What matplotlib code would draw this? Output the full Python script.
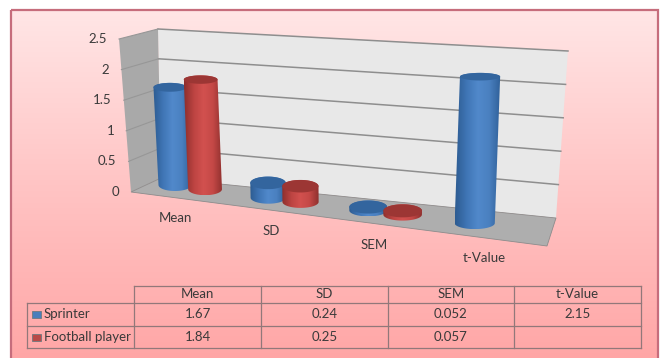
import numpy as np
import matplotlib
matplotlib.use('Agg')
import matplotlib.pyplot as plt
from matplotlib.colors import LinearSegmentedColormap
from matplotlib.patches import Polygon, Rectangle

categories = ['Mean', 'SD', 'SEM', 't-Value']
sprinter = [1.67, 0.24, 0.052, 2.15]
football = [1.84, 0.25, 0.057, None]
sprinter_text = ['1.67', '0.24', '0.052', '2.15']
football_text = ['1.84', '0.25', '0.057', '']
ticks = [0, 0.5, 1, 1.5, 2, 2.5]
tick_labels = ['0', '0.5', '1', '1.5', '2', '2.5']

plt.rcParams['font.family'] = ['Lato', 'DejaVu Sans']
TEXT = '#3a3a3a'
LINE = '#92787a'
FS = 9.5

fig = plt.figure(figsize=(6.64, 3.58), dpi=100, facecolor='white')
ax = fig.add_axes([0, 0, 1, 1])
ax.set_axis_off()

# pink panel behind everything, it runs off the bottom edge
panel_cmap = LinearSegmentedColormap.from_list('panel', ['#ffe6e6', '#ffc4c4', '#ffa6a6'])
grad = np.linspace(0, 1, 256).reshape(-1, 1)
ax.imshow(grad, extent=(11, 658, 360, 10), cmap=panel_cmap, aspect='auto', zorder=0)
ax.add_patch(Rectangle((11, 10), 647, 352, fill=False, ec='#c66d7c', lw=1.6, zorder=1))


# wall and side wall corners, v is the axis value
def wall_left(v):
    return 161 - 3 * v / 2.5, 178 - 149 * v / 2.5


def wall_right(v):
    return 556 + 12 * v / 2.5, 218 - 167 * v / 2.5


def side_outer(v):
    return 131 - 12 * v / 2.5, 192 - 153 * v / 2.5


ax.add_patch(Polygon([wall_left(0), wall_right(0), wall_right(2.5), wall_left(2.5)],
                     fc='#e8e8e8', ec='none', zorder=2))
ax.add_patch(Polygon([side_outer(0), wall_left(0), wall_left(2.5), side_outer(2.5)],
                     fc='#a9a9a9', ec='none', zorder=2))
ax.add_patch(Polygon([side_outer(0), (547, 246), wall_right(0), wall_left(0)],
                     fc='#aeaeae', ec='#8c8c8c', lw=0.6, zorder=2))

for v, lab in zip(ticks, tick_labels):
    xl, yl = wall_left(v)
    xr, yr = wall_right(v)
    xo, yo = side_outer(v)
    if v > 0:
        ax.plot([xl, xr], [yl, yr], color='#8e8e8e', lw=1.1, zorder=3)
        ax.plot([xo, xl], [yo, yl], color='#979797', lw=0.8, zorder=3)
    ax.text(xo - 12, yo, lab, ha='right', va='center', fontsize=FS, color=TEXT, zorder=6)


def floor_point(t):
    return 175 + 90 * t + 3.3 * t * t, 185 + 12.7 * t


def cylinder_path(cx0, cy0, cx1, cy1, w, ry0, ry1):
    a = np.linspace(0, np.pi, 40)
    # lower rim from right to left, upper rim back from left to right
    low = np.c_[cx0 + w * np.cos(a), cy0 + ry0 * np.sin(a)]
    up = np.c_[cx1 - w * np.cos(a), cy1 - ry1 * np.sin(a)]
    return np.vstack([low, up, low[:1]])


def draw_cylinder(t, value, shades, top_color, z):
    cx0, cy0 = floor_point(t)
    scale = 58.5 + 3.2 * t
    lean = -3 + 1.83 * t
    w = 16.5 + 1.2 * t
    cy1 = cy0 - value * scale
    cx1 = cx0 + value * lean
    ry0 = 6.0
    ry1 = max(3.8, 6.6 - 1.3 * value)
    verts = cylinder_path(cx0, cy0, cx1, cy1, w, ry0, ry1)
    clip = Polygon(verts, closed=True, transform=ax.transData, fc='none', ec='none')
    ax.add_patch(clip)
    cmap = LinearSegmentedColormap.from_list('cyl', shades)
    im = ax.imshow(np.linspace(0, 1, 64).reshape(1, -1), cmap=cmap, aspect='auto',
                   extent=(verts[:, 0].min(), verts[:, 0].max(), cy0 + ry0, cy1 - ry1), zorder=z)
    im.set_clip_path(clip)
    a = np.linspace(0, 2 * np.pi, 60)
    ax.add_patch(Polygon(np.c_[cx1 + w * np.cos(a), cy1 + ry1 * np.sin(a)],
                         fc=top_color, ec='none', zorder=z + 0.1))


blue_shades = ['#2d5c92', '#3f75b5', '#5189cb', '#4a80c0', '#2f6098']
red_shades = ['#8e2f2d', '#bd4442', '#d2514f', '#c44846', '#8f302e']

for i in range(len(categories)):
    draw_cylinder(i, sprinter[i], blue_shades, '#33659e', 4 + i)
    if football[i] is not None:
        draw_cylinder(i + 0.33, football[i], red_shades, '#9c3634', 4.3 + i)

for i, name in enumerate(categories):
    ax.text(175 + 93 * i + 3.4 * i * i, 218 + 13.4 * i, name, ha='center', va='center',
            fontsize=FS, color=TEXT, zorder=12)

# data table under the chart
col_x = [134, 261, 388, 514, 641]
row_y = [286, 303, 326, 348]
left = 27
ax.plot([col_x[0], col_x[-1]], [row_y[0], row_y[0]], color=LINE, lw=0.9, zorder=12)
for y in row_y[1:]:
    ax.plot([left, col_x[-1]], [y, y], color=LINE, lw=0.9, zorder=12)
ax.plot([left, left], [row_y[1], row_y[3]], color=LINE, lw=0.9, zorder=12)
for x in col_x:
    ax.plot([x, x], [row_y[0], row_y[3]], color=LINE, lw=0.9, zorder=12)

rows = [('Sprinter', sprinter_text, '#4a7ebb'), ('Football player', football_text, '#b94a48')]
for j, name in enumerate(categories):
    xc = (col_x[j] + col_x[j + 1]) / 2
    ax.text(xc, (row_y[0] + row_y[1]) / 2, name, ha='center', va='center',
            fontsize=FS, color=TEXT, zorder=13)
    for r, (_, vals, _c) in enumerate(rows):
        ax.text(xc, (row_y[r + 1] + row_y[r + 2]) / 2, vals[j], ha='center', va='center',
                fontsize=FS, color=TEXT, zorder=13)

for r, (label, _, color) in enumerate(rows):
    yc = (row_y[r + 1] + row_y[r + 2]) / 2
    ax.add_patch(Rectangle((32, yc - 3.5), 9, 7, fc=color, ec='#6f7a80', lw=0.6, zorder=13))
    ax.text(44, yc, label, ha='left', va='center', fontsize=FS, color=TEXT, zorder=13)

ax.set_xlim(0, 664)
ax.set_ylim(358, 0)
fig.savefig('out.png', dpi=100, facecolor='white')
